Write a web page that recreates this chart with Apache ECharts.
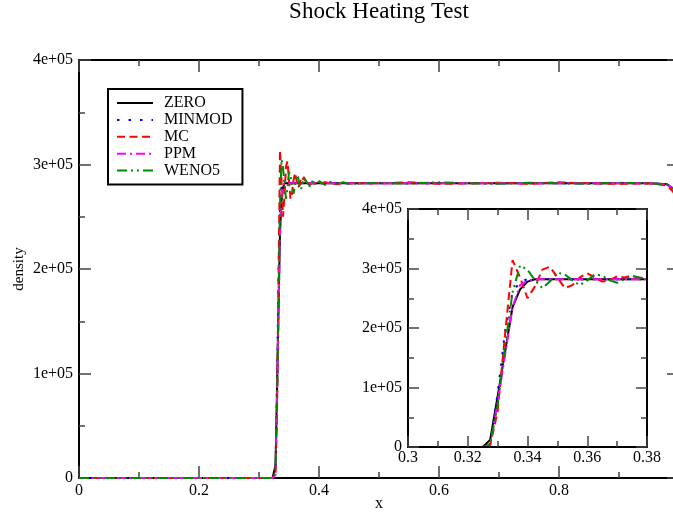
<!DOCTYPE html>
<html>
<head>
<meta charset="utf-8">
<script src="https://cdn.jsdelivr.net/npm/echarts@6/dist/echarts.min.js"></script>
<style>html,body{margin:0;padding:0;background:#fff}#c{width:673px;height:512px}</style>
</head>
<body>
<div id="c"></div>
<script>
// ---- data ----
const xVals = [0, 0.3225, 0.325, 0.3275, 0.33, 0.3325, 0.335, 0.3375, 0.34, 0.3425, 0.345, 0.3475, 0.35, 0.3525, 0.355, 0.3575, 0.36, 0.3625, 0.365, 0.3675, 0.37, 0.3725, 0.375, 0.3775, 0.38, 0.385, 0.39, 0.395, 0.40, 0.41, 0.42, 0.43, 0.44, 0.45, 0.5, 0.55, 0.6, 0.65, 0.7, 0.75, 0.8, 0.85, 0.9, 0.95, 0.98, 0.99, 1.0];
const zeroVals = [0, 0, 0, 12000, 85000, 160000, 235000, 265000, 278000, 282000, 282000, 282000, 282000, 282000, 282000, 282000, 282000, 282000, 282000, 282000, 282000, 282000, 282000, 282000, 282000, 282000, 282000, 282000, 282000, 282000, 282000, 282000, 282000, 282000, 282000, 282000, 282000, 282000, 282000, 282000, 282000, 282000, 282000, 282000, 281000, 277000, 270000];
const minmodVals = [0, 0, 0, 5000, 90000, 195000, 260000, 278000, 282000, 282000, 282000, 282000, 282000, 282000, 282000, 282000, 282000, 282000, 282000, 282000, 282000, 282000, 282000, 282000, 282000, 282000, 282000, 282000, 282000, 282000, 282000, 282000, 282000, 282000, 282000, 282000, 282000, 282000, 282000, 282000, 282000, 282000, 282000, 282000, 281000, 277000, 270000];
const mcVals = [0, 0, 0, 3000, 60000, 190000, 314000, 285000, 250000, 270000, 298000, 303000, 285000, 267000, 272000, 285000, 292000, 285000, 278000, 280000, 287000, 285000, 288000, 284000, 282000, 281000, 283000, 282000, 281500, 283000, 282000, 281000, 282500, 282000, 282000, 283000, 281500, 282000, 282500, 281500, 283000, 282000, 281500, 282000, 280000, 274000, 265000];
const ppmVals = [0, 0, 0, 3000, 75000, 155000, 235000, 272000, 280000, 282000, 282000, 282000, 282000, 282000, 282000, 282000, 282000, 282000, 282000, 282000, 282000, 282000, 282000, 282000, 282000, 282000, 282000, 282000, 282000, 282000, 282000, 282000, 282000, 282000, 282000, 282000, 282000, 282000, 282000, 282000, 282000, 282000, 282000, 282000, 281000, 277000, 270000];
const weno5Vals = [0, 0, 0, 5000, 70000, 170000, 260000, 305000, 298000, 280000, 267000, 278000, 293000, 290000, 280000, 272000, 280000, 290000, 288000, 280000, 276000, 282000, 287000, 285000, 283000, 279000, 285000, 280000, 284000, 280500, 283500, 281000, 283000, 281500, 282500, 281500, 283000, 282000, 281500, 282500, 282000, 281500, 282500, 282000, 281000, 277000, 270000];
const seriesNames = ['ZERO', 'MINMOD', 'MC', 'PPM', 'WENO5'];
const seriesValues = [zeroVals, minmodVals, mcVals, ppmVals, weno5Vals];
const mainXTicks = [0, 0.2, 0.4, 0.6, 0.8, 1];
const insetXTicks = [0.3, 0.32, 0.34, 0.36, 0.38];
const yTicks = [0, 100000, 200000, 300000, 400000];

// ---- styles ----
const styles = [
  {color: '#000000', type: 'solid'},
  {color: '#0000ff', type: [2.5, 9]},
  {color: '#ff0000', type: [8, 4.5]},
  {color: '#ff00ff', type: [9, 4, 2, 4]},
  {color: '#008b00', type: [10, 4, 2, 4, 2, 4]}
];
const FONT = 'Liberation Serif';
const yFmt = v => v === 0 ? '0' : (v / 1e5) + 'e+05';
const xFmt = v => String(+(+v).toFixed(2));

function pairs(vals) { return xVals.map((x, i) => [x, vals[i]]); }

const series = [];
[0, 1].forEach(g => {
  seriesNames.forEach((name, i) => {
    series.push({
      name: name, type: 'line', xAxisIndex: g === 0 ? 0 : 2, yAxisIndex: g === 0 ? 0 : 2,
      data: pairs(seriesValues[i]), showSymbol: false, symbol: 'none', clip: true, z: g === 0 ? 2 : 4,
      lineStyle: {color: styles[i].color, type: styles[i].type, width: 2},
      itemStyle: {color: styles[i].color}, animation: false
    });
  });
});

function axisCommon(len, minorLen) {
  return {
    axisLine: {show: true, onZero: false, lineStyle: {color: '#000', width: 2}},
    axisTick: {show: true, inside: true, length: len, lineStyle: {color: '#444', width: 1.5}},
    minorTick: {show: true, splitNumber: 2, length: minorLen, lineStyle: {color: '#444', width: 1.5}},
    splitLine: {show: false}
  };
}

const chart = echarts.init(document.getElementById('c'), null, {renderer: 'canvas'});
chart.setOption({
  animation: false,
  backgroundColor: '#fff',
  title: {text: 'Shock Heating Test', left: 379, top: 0, padding: 0, textAlign: 'center',
    textStyle: {fontFamily: FONT, fontSize: 23, fontWeight: 'normal', color: '#000'}},
  legend: {
    data: seriesNames, orient: 'vertical', left: 108, top: 89,
    padding: [6, 10, 6, 8], itemWidth: 36, itemHeight: 14, itemGap: 0.9,
    borderColor: '#000', borderWidth: 2, backgroundColor: '#fff',
    itemStyle: {color: 'rgba(0,0,0,0)', borderWidth: 0, opacity: 0},
    textStyle: {fontFamily: FONT, fontSize: 16, color: '#000', padding: [0, 0, 0, 6]}
  },
  grid: [
    {left: 79, top: 60, width: 600, height: 418, outerBoundsMode: 'none', containLabel: false},
    {left: 408, top: 209, width: 239, height: 238, outerBoundsMode: 'none', show: true, backgroundColor: '#fff', borderWidth: 0}
  ],
  xAxis: [
    Object.assign({gridIndex: 0, type: 'value', position: 'bottom', min: mainXTicks[0], max: mainXTicks[mainXTicks.length - 1], interval: 0.2,
      name: 'x', nameLocation: 'middle', nameGap: 18, nameMoveOverlap: false, nameTextStyle: {fontFamily: FONT, fontSize: 16, color: '#000'},
      axisLabel: {fontFamily: FONT, fontSize: 16, color: '#000', margin: 5, formatter: xFmt, showMaxLabel: false}}, axisCommon(12, 6)),
    Object.assign({gridIndex: 0, type: 'value', position: 'top', min: 0, max: 1, interval: 0.2, axisLabel: {show: false}}, axisCommon(12, 6)),
    Object.assign({gridIndex: 1, type: 'value', position: 'bottom', min: insetXTicks[0], max: insetXTicks[insetXTicks.length - 1], interval: 0.02, z: 6,
      axisLabel: {fontFamily: FONT, fontSize: 16, color: '#000', margin: 3, formatter: xFmt}}, axisCommon(11, 6)),
    Object.assign({gridIndex: 1, type: 'value', position: 'top', min: 0.3, max: 0.38, interval: 0.02, z: 6, axisLabel: {show: false}}, axisCommon(11, 6))
  ],
  yAxis: [
    Object.assign({gridIndex: 0, type: 'value', position: 'left', min: yTicks[0], max: yTicks[yTicks.length - 1], interval: 100000,
      name: 'density', nameLocation: 'middle', nameGap: 52, nameRotate: 90, nameMoveOverlap: false,
      nameTextStyle: {fontFamily: FONT, fontSize: 15, color: '#000'},
      axisLabel: {fontFamily: FONT, fontSize: 16, color: '#000', margin: 6, formatter: yFmt}}, axisCommon(12, 6)),
    Object.assign({gridIndex: 0, type: 'value', position: 'right', min: 0, max: 400000, interval: 100000, axisLabel: {show: false}}, axisCommon(12, 6)),
    Object.assign({gridIndex: 1, type: 'value', position: 'left', min: 0, max: 400000, interval: 100000, z: 6,
      axisLabel: {fontFamily: FONT, fontSize: 16, color: '#000', margin: 6, formatter: yFmt}}, axisCommon(11, 6)),
    Object.assign({gridIndex: 1, type: 'value', position: 'right', min: 0, max: 400000, interval: 100000, z: 6, axisLabel: {show: false}}, axisCommon(11, 6))
  ],
  series: series
});
</script>
</body>
</html>
